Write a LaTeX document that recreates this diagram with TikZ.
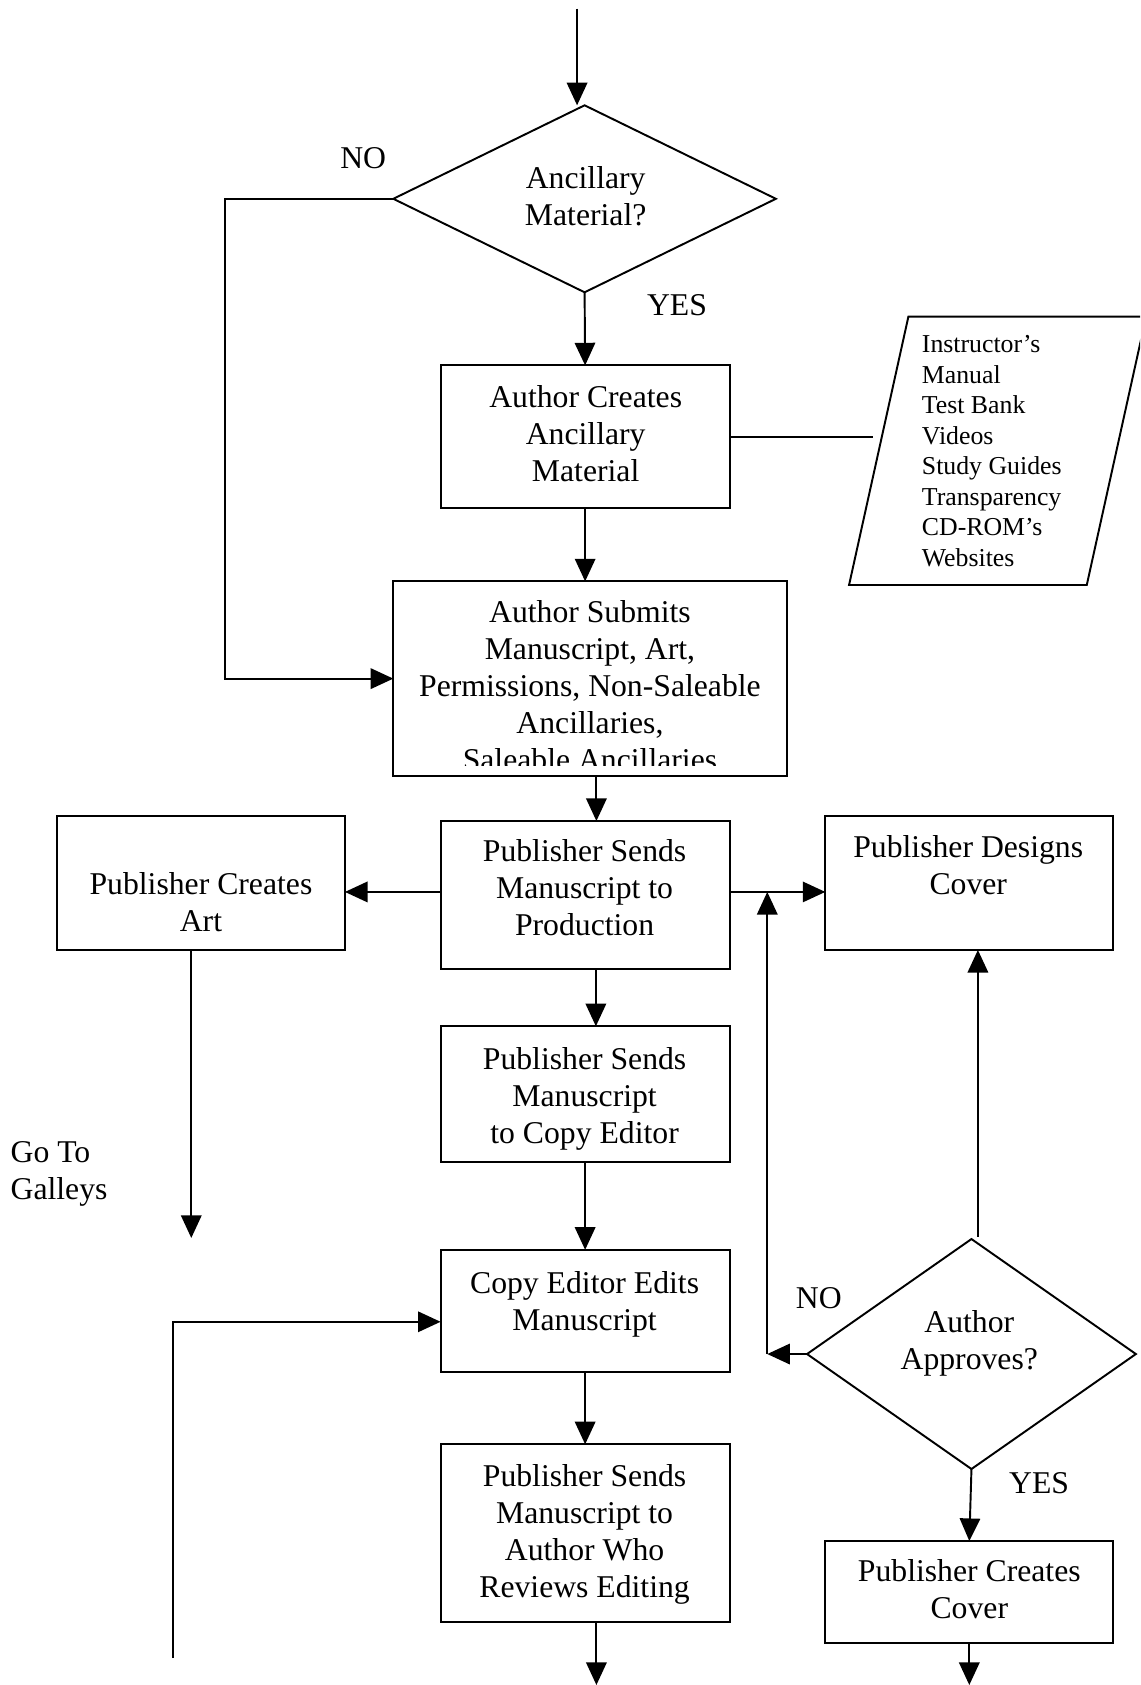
\documentclass[tikz,border=0pt]{standalone}
\usepackage{fontspec}
\setmainfont{Liberation Serif}
\usetikzlibrary{arrows.meta,shapes.geometric,calc}

\begin{document}
\begin{tikzpicture}[x=0.5pt,y=-0.5pt,
  line width=0.9pt,
  arr/.style={-{Triangle[length=10.5pt,width=9.5pt]}},
  flowbox/.style={draw,rectangle,inner sep=0pt,outer sep=0pt},
  decision/.style={draw,diamond,inner sep=0pt,outer sep=0pt},
  boxtext/.style={inner sep=0pt,anchor=north,align=center,font=\fontsize{14.75}{17.25}\selectfont},
  listtext/.style={inner sep=0pt,anchor=north west,align=left,font=\fontsize{12}{14.2}\selectfont},
  answer/.style={inner sep=0pt,font=\fontsize{14.75}{17.25}\selectfont}]

\clip (0,0) rectangle (1061,1568);

% ---------- decisions ----------
\node[decision,minimum width=178pt,minimum height=87pt] (anc) at (544,185) {};
\node[boxtext] (anctxt) at (545,153.6) {Ancillary\\Material?};

\node[decision,minimum width=153pt,minimum height=107pt] (appr) at (904,1260) {};
\node[boxtext] (apprtxt) at (902,1218.6) {Author\\Approves?};

% ---------- process boxes ----------
\node[flowbox,minimum width=134.5pt,minimum height=66.5pt] (create) at (544.5,406.5) {};
\node[boxtext] (createtxt) at (545,357.6) {Author Creates\\Ancillary\\Material};

\node[flowbox,minimum width=183pt,minimum height=90.5pt] (submit) at (549,631.5) {};
\begin{scope}
  \clip (366,541) rectangle (732,712);
  \node[boxtext] (submittxt) at (549,557.6) {Author Submits\\Manuscript, Art,\\Permissions, Non-Saleable\\Ancillaries,\\Saleable Ancillaries};
\end{scope}

\node[flowbox,minimum width=134.5pt,minimum height=69pt] (prod) at (544.5,833) {};
\node[boxtext] (prodtxt) at (544,780.6) {Publisher Sends\\Manuscript to\\Production};

\node[flowbox,minimum width=134pt,minimum height=62.5pt] (art) at (187,821.5) {};
\node[boxtext] (arttxt) at (187,810.6) {Publisher Creates\\Art};

\node[flowbox,minimum width=134pt,minimum height=62.5pt] (design) at (902,821.5) {};
\node[boxtext] (designtxt) at (901,776.6) {Publisher Designs\\Cover};

\node[flowbox,minimum width=134.5pt,minimum height=63pt] (copy) at (544.5,1018) {};
\node[boxtext] (copytxt) at (544,973.6) {Publisher Sends\\Manuscript\\to Copy Editor};

\node[flowbox,minimum width=134.5pt,minimum height=57pt] (edit) at (544.5,1220) {};
\node[boxtext] (edittxt) at (544,1182.6) {Copy Editor Edits\\Manuscript};

\node[flowbox,minimum width=134.5pt,minimum height=82.5pt] (review) at (544.5,1426.5) {};
\node[boxtext] (reviewtxt) at (544,1361.6) {Publisher Sends\\Manuscript to\\Author Who\\Reviews Editing};

\node[flowbox,minimum width=134pt,minimum height=47.5pt] (cover) at (902,1481.5) {};
\node[boxtext] (covertxt) at (902,1450.6) {Publisher Creates\\Cover};

% ---------- list of ancillaries ----------
\coordinate (pTL) at (845.3,294.7);
\coordinate (pTR) at (1066.5,294.7);
\coordinate (pBR) at (1011.3,544.4);
\coordinate (pBL) at (790.1,544.4);
\draw (pTL) -- (pTR) -- (pBR) -- (pBL) -- cycle;
\node[listtext] (items) at (857,311.5) {Instructor’s\\Manual\\Test Bank\\Videos\\Study Guides\\Transparency\\CD-ROM’s\\Websites};

% ---------- labels ----------
\node[answer] (no1) at (338,147) {NO};
\node[answer] (yes1) at (630,284) {YES};
\node[answer] (no2) at (762,1208) {NO};
\node[answer] (yes2) at (967,1380) {YES};
\node[boxtext,anchor=north west,align=left] (galleys) at (9,1061.6) {Go To\\Galleys};

% ---------- free ends and offset attachment points ----------
\coordinate (start) at (537,8);
\coordinate (listend) at (812,406.5);
\coordinate (artend) at (178,1152);
\coordinate (loopend) at (161,1543);
\coordinate (out1) at (555,1568);
\coordinate (out2) at (902,1568);
\coordinate (back) at (714,1260);
\coordinate (subout) at ($(submit.south)+(6,0)$);
\coordinate (prodL) at ($(prod.west)+(0,-3)$);
\coordinate (prodR) at ($(prod.east)+(0,-3)$);
\coordinate (prodout) at ($(prod.south)+(10,0)$);
\coordinate (editin) at ($(edit.west)+(0,10)$);
\coordinate (apprup) at ($(appr.north)+(6,-2)$);

% ---------- connectors ----------
\draw[arr] (start) -- (start |- anc.north);
\draw[arr] (anc.west) -- ++(-157,0) |- (submit.west);
\draw[arr] (anc.south) -- (create.north);
\draw (create.east) -- (listend);
\draw[arr] (create.south) -- (create.south |- submit.north);
\draw[arr] (subout) -- (subout |- prod.north);
\draw[arr] (prodL) -- (prodL -| art.east);
\draw[arr] (prodR) -- (prodR -| design.west);
\draw[arr] (artend |- art.south) -- (artend);
\draw[arr] (prodout) -- (prodout |- copy.north);
\draw[arr] (copy.south) -- (edit.north);
\draw[arr] (loopend) |- (editin);
\draw[arr] (edit.south) -- (review.north);
\draw[arr] (out1 |- review.south) -- (out1);
\draw[arr] (appr.west) -- (back);
\draw[arr] (back) -- (back |- prodR);
\draw[arr] (apprup) -- (apprup |- design.south);
\draw[arr] (appr.south) -- (cover.north);
\draw[arr] (cover.south) -- (out2);

\end{tikzpicture}
\end{document}
